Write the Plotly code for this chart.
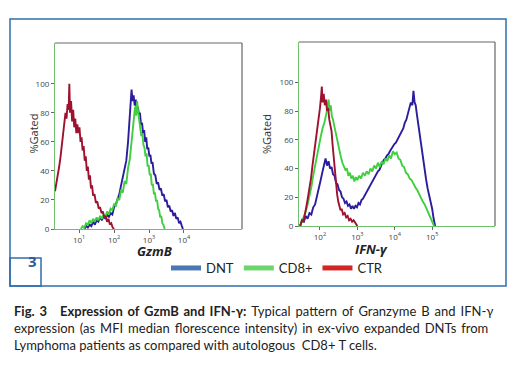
import plotly.graph_objects as go

# ---------------- data (x in log10 decades, y in %Gated) ----------------
gzmb_ctr_x = [0.31,0.35,0.39,0.43,0.47,0.51,0.55,0.58,0.61,0.64,0.67,0.70,0.72,0.74,0.77,0.80,0.83,0.86,0.89,0.92,0.95,0.98,1.01,1.04,1.07,1.10,1.13,1.16,1.19,1.22,1.25,1.28,1.31,1.34,1.37,1.40,1.44,1.48,1.52,1.56,1.60,1.64,1.68,1.72,1.76,1.80,1.84,1.88,1.92,1.96,2.00]
gzmb_ctr_y = [26,31,36,43,50,58,66,72,80,76,86,82,100,80,88,74,82,70,76,66,72,66,70,60,63,54,57,47,50,40,43,34,37,28,30,23,24,18,19,14,15,11,12,8,9,5,7,3,4,1,0]

gzmb_cd8_x = [1.05,1.10,1.15,1.20,1.25,1.30,1.35,1.40,1.45,1.50,1.55,1.60,1.65,1.70,1.75,1.80,1.85,1.90,1.95,2.00,2.05,2.10,2.15,2.20,2.25,2.30,2.35,2.40,2.45,2.50,2.55,2.60,2.63,2.66,2.69,2.72,2.75,2.78,2.81,2.84,2.87,2.90,2.93,2.96,2.99,3.02,3.05,3.08,3.11,3.14,3.17,3.20,3.23,3.26,3.29,3.32,3.35,3.38,3.41,3.45]
gzmb_cd8_y = [0,2,1,4,3,6,4,7,5,8,6,9,7,10,8,12,10,14,13,17,16,21,20,27,25,33,31,42,48,62,70,84,78,88,80,74,70,64,66,58,56,50,52,43,44,37,38,30,31,24,25,19,20,14,13,8,9,4,3,0]

gzmb_dnt_x = [1.15,1.20,1.25,1.30,1.35,1.40,1.45,1.50,1.55,1.60,1.65,1.70,1.75,1.80,1.85,1.90,1.95,2.00,2.05,2.10,2.15,2.20,2.25,2.30,2.35,2.40,2.44,2.47,2.50,2.53,2.56,2.59,2.62,2.65,2.68,2.71,2.74,2.77,2.80,2.83,2.86,2.89,2.92,2.95,2.98,3.01,3.04,3.07,3.10,3.14,3.18,3.22,3.26,3.30,3.34,3.38,3.42,3.46,3.50,3.54,3.58,3.62,3.66,3.70,3.74,3.78,3.82,3.86,3.90,3.94,3.97]
gzmb_dnt_y = [0,2,1,3,2,5,3,6,5,8,6,9,7,10,8,11,10,15,17,21,24,30,35,40,47,60,72,86,96,88,92,85,89,82,84,79,80,72,73,66,68,60,63,55,56,50,51,45,46,38,37,31,32,27,28,23,24,19,20,15,16,12,13,9,11,7,8,4,5,2,0]

ifn_ctr_x = [1.47,1.52,1.56,1.60,1.64,1.68,1.72,1.76,1.80,1.84,1.88,1.92,1.96,2.00,2.03,2.05,2.07,2.10,2.13,2.16,2.19,2.22,2.25,2.28,2.31,2.34,2.37,2.40,2.43,2.46,2.49,2.52,2.55,2.58,2.62,2.66,2.70,2.74,2.78,2.82,2.86,2.90,2.94,2.98,3.00]
ifn_ctr_y = [0,4,3,10,14,20,26,33,42,50,55,64,72,82,90,97,86,92,84,88,80,82,74,70,66,56,46,38,28,22,17,14,11,12,8,9,6,7,4,5,3,4,2,1,0]

ifn_cd8_x = [1.47,1.52,1.57,1.62,1.67,1.72,1.77,1.82,1.87,1.92,1.97,2.02,2.07,2.12,2.17,2.20,2.23,2.26,2.29,2.32,2.35,2.38,2.41,2.44,2.47,2.50,2.53,2.56,2.60,2.64,2.68,2.72,2.76,2.80,2.84,2.88,2.92,2.96,3.00,3.05,3.10,3.15,3.20,3.25,3.30,3.35,3.40,3.45,3.50,3.55,3.60,3.65,3.70,3.75,3.80,3.85,3.90,3.95,4.00,4.05,4.10,4.15,4.20,4.25,4.30,4.35,4.40,4.45,4.50,4.55,4.60,4.65,4.70,4.75,4.80,4.85,4.90,4.95,5.00,5.05]
ifn_cd8_y = [0,3,6,10,15,20,27,35,42,50,56,62,68,72,78,84,88,80,84,76,74,70,66,62,58,54,50,48,44,42,39,40,35,37,33,35,31,34,32,35,33,37,35,38,36,40,38,42,40,44,41,45,43,47,45,49,47,52,50,51,47,46,42,41,37,36,33,32,29,27,25,22,20,17,15,12,10,6,3,0]

ifn_dnt_x = [1.47,1.52,1.57,1.62,1.67,1.72,1.77,1.82,1.87,1.92,1.97,2.02,2.07,2.11,2.15,2.19,2.23,2.27,2.31,2.35,2.39,2.43,2.47,2.51,2.55,2.59,2.63,2.67,2.71,2.75,2.79,2.83,2.87,2.91,2.95,2.99,3.03,3.07,3.11,3.15,3.19,3.23,3.27,3.31,3.35,3.39,3.43,3.47,3.51,3.55,3.59,3.63,3.67,3.71,3.75,3.79,3.83,3.87,3.91,3.95,3.99,4.03,4.07,4.11,4.15,4.19,4.23,4.27,4.31,4.35,4.39,4.43,4.47,4.50,4.53,4.56,4.59,4.62,4.65,4.68,4.71,4.74,4.77,4.80,4.84,4.88,4.92,4.96,5.00,5.04,5.08]
ifn_dnt_y = [0,4,3,7,5,9,8,13,15,20,26,32,38,44,47,42,45,40,41,36,35,30,29,25,24,20,19,16,17,14,15,12,14,12,14,13,16,15,18,19,21,23,24,27,29,31,32,35,36,38,39,42,44,46,47,49,50,52,54,55,57,58,60,62,63,66,68,72,74,78,82,86,84,94,86,84,78,72,66,60,55,48,42,37,32,26,22,18,12,5,0]

series_names = ["DNT", "CD8+", "CTR"]
line_colors = ["#2a1d9e", "#3fcf3f", "#9e1230"]
legend_colors = ["#4a78b4", "#6cd66c", "#d42525"]

gzmb_tickvals = [1, 2, 3, 4]
gzmb_ticktext = ["10<sup>1</sup>", "10<sup>2</sup>", "10<sup>3</sup>", "10<sup>4</sup>"]
ifn_tickvals = [2, 3, 4, 5]
ifn_ticktext = ["10<sup>2</sup>", "10<sup>3</sup>", "10<sup>4</sup>", "10<sup>5</sup>"]
y_tickvals = [0, 20, 40, 60, 80, 100]

TS = "\u2009"  # thin space used to approximate the justified caption lines
caption_lines = [
    ("<b>Fig." + TS + " 3</b>", 12),
    (("<b>Expression of GzmB and IFN-γ:</b> Typical pattern of Granzyme B and IFN-γ").replace(" ", " " + TS), 58),
    ("expression (as MFI median florescence intensity) in ex-vivo expanded DNTs from".replace(" ", " " + TS), 12),
    ("Lymphoma patients as compared with autologous  CD8+ T cells.", 12),
]
caption_rows = [311, 311, 328, 345]

W, H = 520, 390
def px(x): return x / W
def py(y): return 1 - y / H

fig = go.Figure()

left = [(gzmb_dnt_x, gzmb_dnt_y), (gzmb_cd8_x, gzmb_cd8_y), (gzmb_ctr_x, gzmb_ctr_y)]
right = [(ifn_dnt_x, ifn_dnt_y), (ifn_cd8_x, ifn_cd8_y), (ifn_ctr_x, ifn_ctr_y)]
for i, (xs, ys) in enumerate(left):
    fig.add_trace(go.Scatter(x=xs, y=ys, mode="lines", line=dict(color=line_colors[i], width=1.9),
                             showlegend=False, xaxis="x", yaxis="y", hoverinfo="skip"))
for i, (xs, ys) in enumerate(right):
    fig.add_trace(go.Scatter(x=xs, y=ys, mode="lines", line=dict(color=line_colors[i], width=1.9),
                             showlegend=False, xaxis="x2", yaxis="y2", hoverinfo="skip"))
for i, n in enumerate(series_names):
    fig.add_trace(go.Scatter(x=[None], y=[None], mode="lines", name=n,
                             line=dict(color=legend_colors[i], width=5)))

green_axis = "#6fc06f"
ax_common = dict(showgrid=False, zeroline=False, showline=True, linecolor=green_axis, linewidth=1.2,
                 ticks="outside", ticklen=3, tickcolor="#666", tickfont=dict(size=8, color="#444", family="Open Sans"))

fig.update_layout(
    width=W, height=H, autosize=False, margin=dict(l=0, r=0, t=0, b=0, autoexpand=False),
    paper_bgcolor="white", plot_bgcolor="white",
    xaxis=dict(domain=[px(55), px(242)], range=[0.31, 5.66], tickvals=gzmb_tickvals, ticktext=gzmb_ticktext,
               anchor="y", **ax_common),
    yaxis=dict(domain=[py(229), py(43)], range=[0, 128], tickvals=y_tickvals, anchor="x", **ax_common),
    xaxis2=dict(domain=[px(299), px(495)], range=[1.44, 6.68], tickvals=ifn_tickvals, ticktext=ifn_ticktext,
                anchor="y2", **ax_common),
    yaxis2=dict(domain=[py(226), py(42)], range=[0, 128], tickvals=y_tickvals, anchor="x2", **ax_common),
    legend=dict(orientation="h", x=px(166), xanchor="left", y=py(268), yanchor="middle",
                font=dict(size=13, color="#222", family="Lato"), itemwidth=30,
                bgcolor="rgba(0,0,0,0)", tracegroupgap=0),
    showlegend=True,
)

shapes = []
for xr, yr in [("x domain", "y domain"), ("x2 domain", "y2 domain")]:
    shapes.append(dict(type="line", xref=xr, yref=yr, x0=0, x1=1, y0=1, y1=1, line=dict(color="#666", width=1.2)))
    shapes.append(dict(type="line", xref=xr, yref=yr, x0=1, x1=1, y0=0, y1=1, line=dict(color="#666", width=1.2)))
shapes.append(dict(type="rect", xref="paper", yref="paper", x0=px(10), x1=px(506), y0=py(286), y1=py(19),
                   line=dict(color="#2f6fae", width=1.5)))
shapes.append(dict(type="rect", xref="paper", yref="paper", x0=px(10), x1=px(41), y0=py(286), y1=py(258),
                   line=dict(color="#2f6fae", width=1.5)))
fig.update_layout(shapes=shapes)

ann = []
ann.append(dict(text="%Gated", x=px(23), y=py(134), xref="paper", yref="paper", textangle=-90, showarrow=False,
                font=dict(size=11, color="#333", family="Open Sans")))
ann.append(dict(text="%Gated", x=px(266), y=py(134), xref="paper", yref="paper", textangle=-90, showarrow=False,
                font=dict(size=11, color="#333", family="Open Sans")))
ann.append(dict(text="<b><i>GzmB</i></b>", x=px(135), y=py(251), xref="paper", yref="paper", showarrow=False,
                font=dict(size=13, color="#222", family="Open Sans")))
ann.append(dict(text="<b><i>IFN-γ</i></b>", x=px(390), y=py(249), xref="paper", yref="paper", showarrow=False,
                font=dict(size=13, color="#222", family="Open Sans")))
ann.append(dict(text="<b>3</b>", x=px(25.5), y=py(273), xref="paper", yref="paper", showarrow=False,
                font=dict(size=15, color="#2f5a9a", family="Open Sans")))

for (text, xpos), yc in zip(caption_lines, caption_rows):
    ann.append(dict(text=text, x=px(xpos), y=py(yc), xref="paper", yref="paper", xanchor="left",
                    yanchor="middle", showarrow=False, font=dict(size=13, color="#222", family="Lato")))
fig.update_layout(annotations=ann)

fig.write_html("out.html", config={"displayModeBar": False, "responsive": False},
               post_script="document.body.style.margin='0';document.body.style.overflow='hidden';")
